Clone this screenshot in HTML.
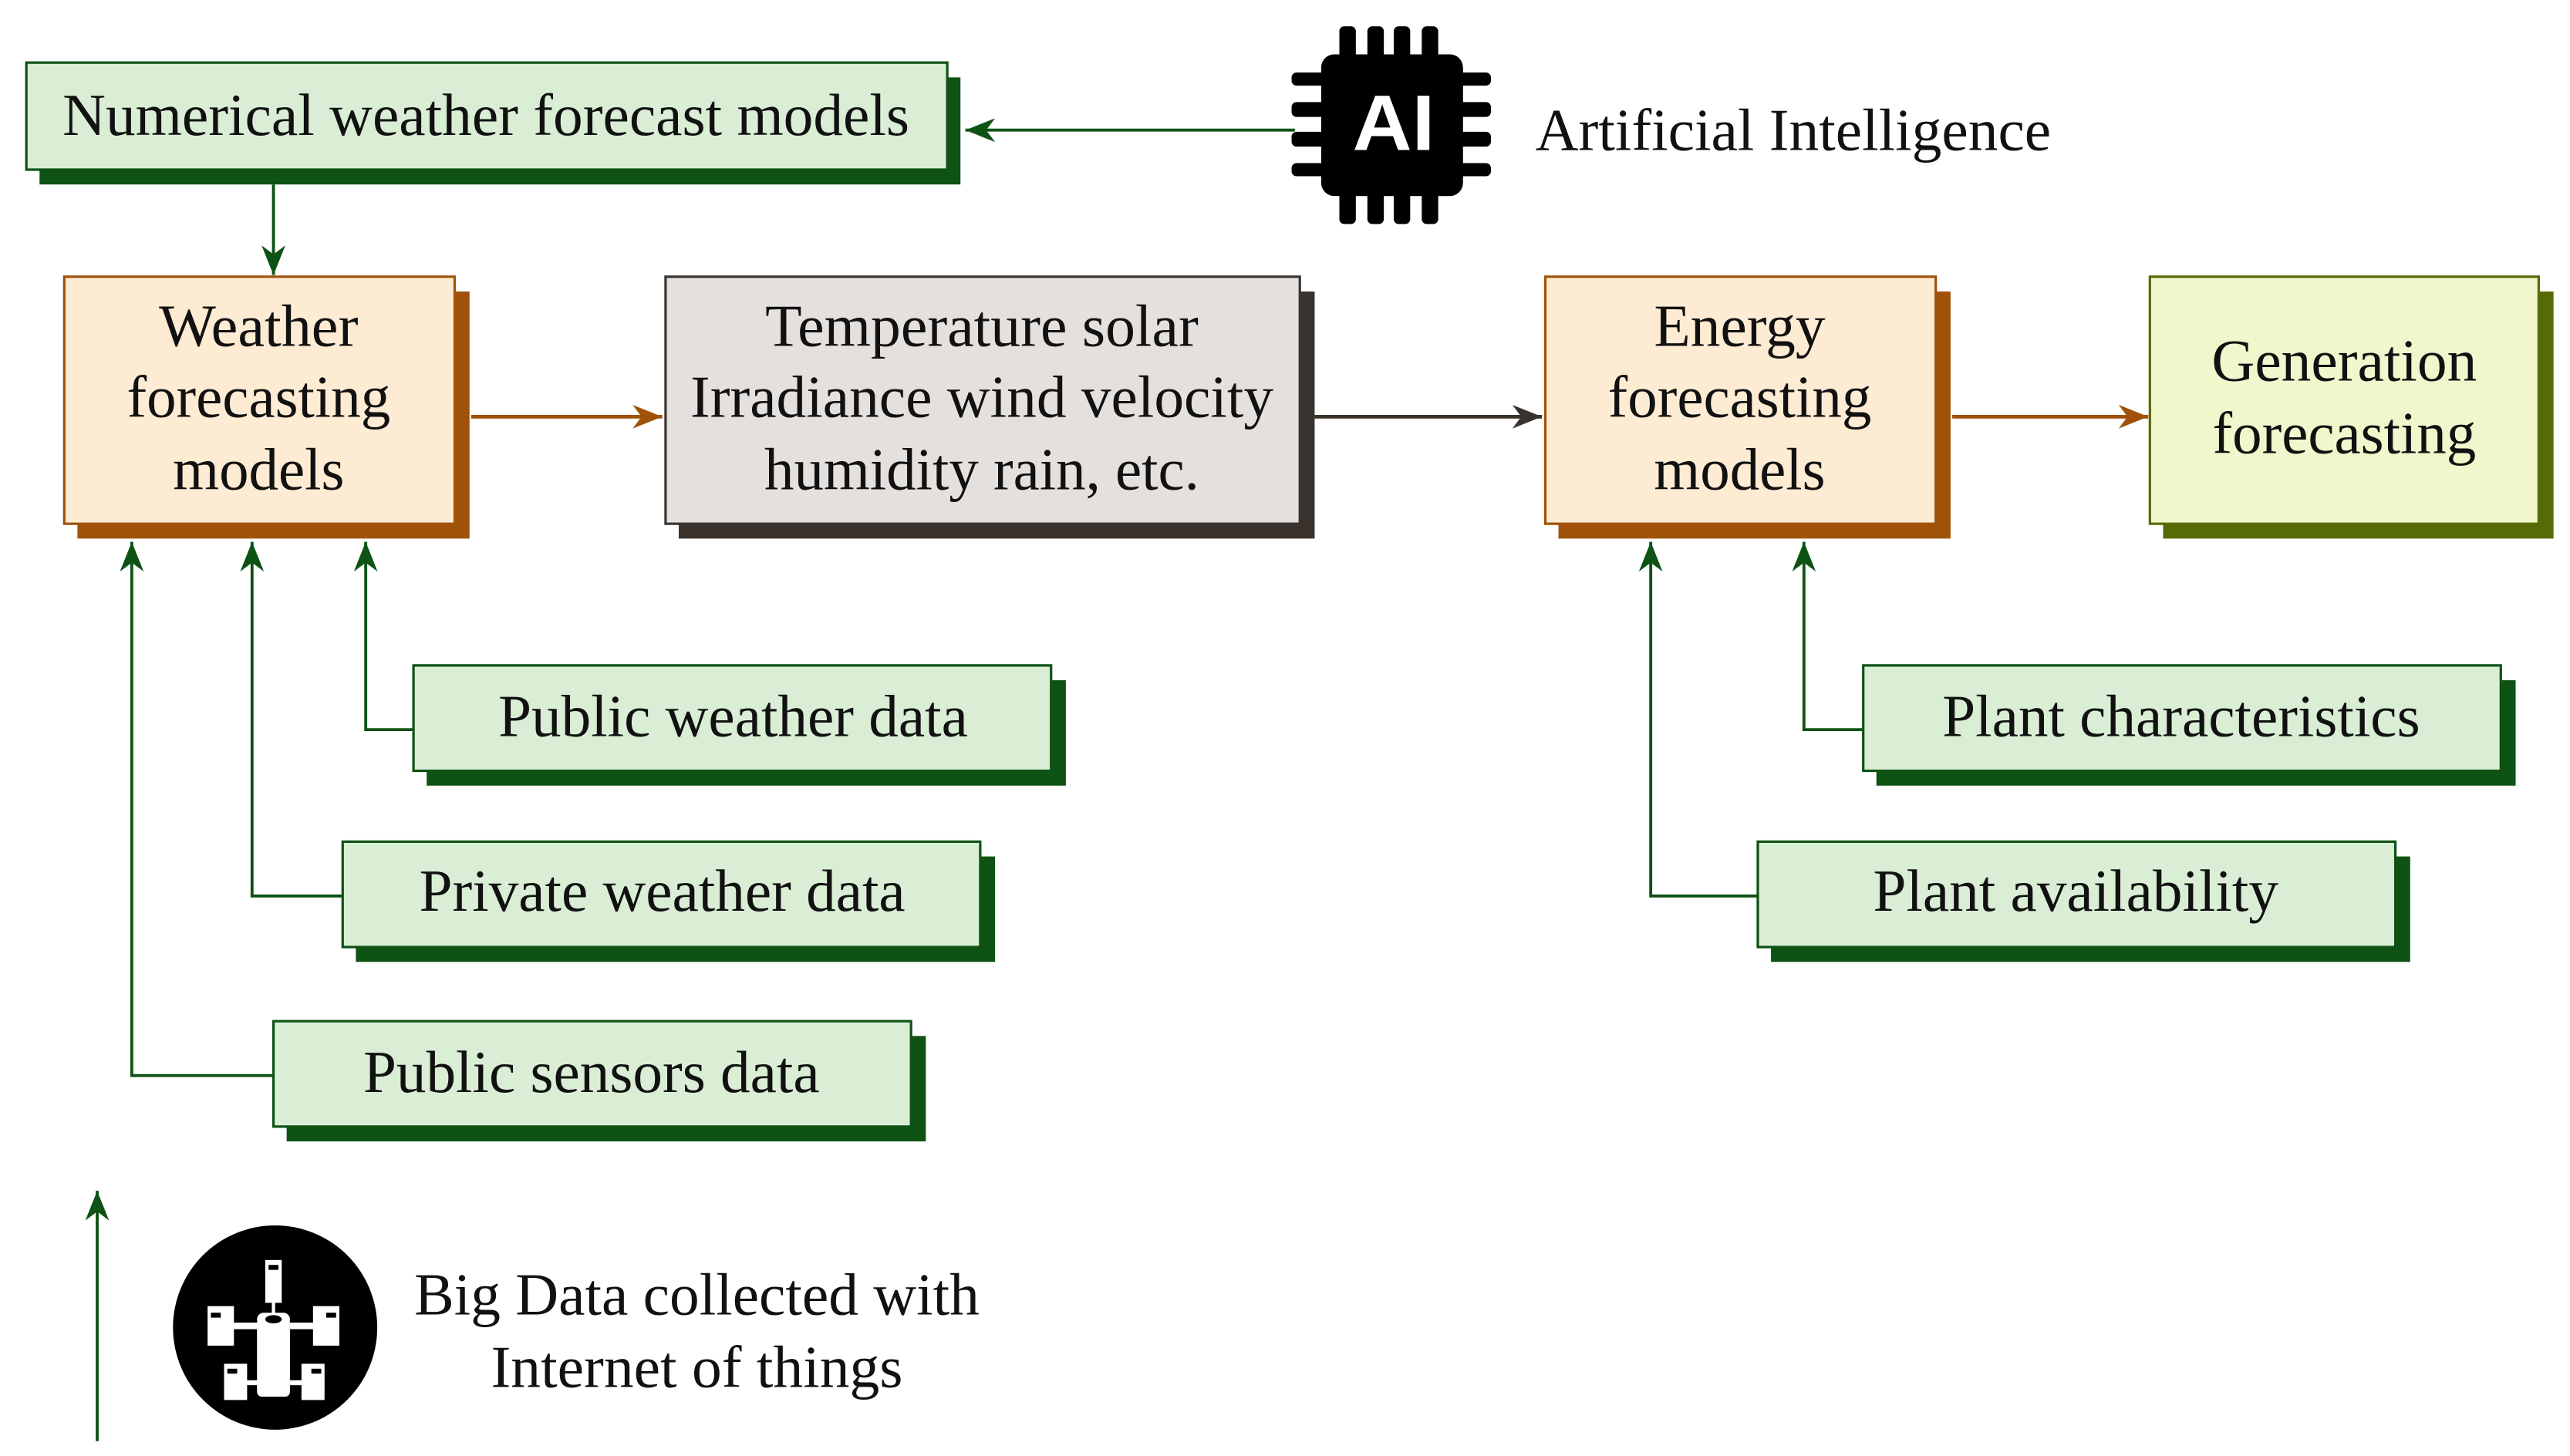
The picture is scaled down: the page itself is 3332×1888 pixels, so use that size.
<!DOCTYPE html>
<html><head><meta charset="utf-8"><style>
html,body{margin:0;padding:0;background:#fff;}
svg{display:block;}
text{font-family:"Liberation Serif",serif;fill:#111;}
</style></head><body>
<svg width="3332" height="1888" viewBox="0 0 1560 884" preserveAspectRatio="none" xmlns="http://www.w3.org/2000/svg">
<defs>
<marker id="ag" viewBox="0 0 10 10" refX="10" refY="5" markerWidth="9" markerHeight="9" markerUnits="userSpaceOnUse" orient="auto"><path d="M0,0 L10,5 L0,10 L3,5 z" fill="#0e5214"/></marker>
<marker id="ag2" viewBox="0 0 10 10" refX="10" refY="5" markerWidth="18" markerHeight="18" markerUnits="userSpaceOnUse" orient="auto"><path d="M0,1 L10,5 L0,9 L3,5 z" fill="#0e5214"/></marker>
<marker id="ao" viewBox="0 0 10 10" refX="10" refY="5" markerWidth="18" markerHeight="18" markerUnits="userSpaceOnUse" orient="auto"><path d="M0,1 L10,5 L0,9 L3,5 z" fill="#a0520a"/></marker>
<marker id="ak" viewBox="0 0 10 10" refX="10" refY="5" markerWidth="18" markerHeight="18" markerUnits="userSpaceOnUse" orient="auto"><path d="M0,1 L10,5 L0,9 L3,5 z" fill="#3a332d"/></marker>
</defs>

<!-- NWF box -->
<rect x="24" y="47" width="559" height="65" fill="#0e5214"/>
<rect x="16" y="38" width="559" height="65" fill="#d9eed5" stroke="#0e5214" stroke-width="1.5"/>
<text x="295" y="82" font-size="36" text-anchor="middle" textLength="514" lengthAdjust="spacingAndGlyphs">Numerical weather forecast models</text>

<!-- AI chip -->
<g fill="#000">
<rect x="802" y="33" width="86" height="86" rx="8"/>
<rect x="813" y="16" width="10" height="120" rx="3"/><rect x="830" y="16" width="10" height="120" rx="3"/>
<rect x="846" y="16" width="10" height="120" rx="3"/><rect x="863" y="16" width="10" height="120" rx="3"/>
<rect x="784" y="44" width="121" height="8" rx="3"/><rect x="784" y="62" width="121" height="9" rx="3"/>
<rect x="784" y="80" width="121" height="9" rx="3"/><rect x="784" y="99" width="121" height="8" rx="3"/>
<rect x="802" y="33" width="86" height="86" rx="8"/>
</g>
<text x="846" y="91" font-size="48" font-weight="bold" text-anchor="middle" style="font-family:'Liberation Sans',sans-serif;fill:#fff" textLength="50" lengthAdjust="spacingAndGlyphs">AI</text>
<text x="932" y="91" font-size="36" textLength="313" lengthAdjust="spacingAndGlyphs">Artificial Intelligence</text>
<line x1="786" y1="79" x2="586" y2="79" stroke="#0e5214" stroke-width="1.8" marker-end="url(#ag2)"/>
<line x1="166" y1="112" x2="166" y2="167" stroke="#0e5214" stroke-width="1.8" marker-end="url(#ag2)"/>

<!-- Weather forecasting -->
<rect x="47" y="177" width="238" height="150" fill="#a0520a"/>
<rect x="39" y="168" width="237" height="150" fill="#fdebd3" stroke="#a0520a" stroke-width="1.5"/>
<text x="157" y="210" font-size="36" text-anchor="middle" textLength="121" lengthAdjust="spacingAndGlyphs">Weather</text>
<text x="157" y="253" font-size="36" text-anchor="middle" textLength="160" lengthAdjust="spacingAndGlyphs">forecasting</text>
<text x="157" y="297" font-size="36" text-anchor="middle" textLength="104" lengthAdjust="spacingAndGlyphs">models</text>

<!-- Temp -->
<rect x="412" y="177" width="386" height="150" fill="#3a332d"/>
<rect x="404" y="168" width="385" height="150" fill="#e4e0dd" stroke="#3a332d" stroke-width="1.5"/>
<text x="596" y="210" font-size="36" text-anchor="middle" textLength="263" lengthAdjust="spacingAndGlyphs">Temperature solar</text>
<text x="596" y="253" font-size="36" text-anchor="middle" textLength="354" lengthAdjust="spacingAndGlyphs">Irradiance wind velocity</text>
<text x="596" y="297" font-size="36" text-anchor="middle" textLength="264" lengthAdjust="spacingAndGlyphs">humidity rain, etc.</text>

<!-- Energy -->
<rect x="946" y="177" width="238" height="150" fill="#a0520a"/>
<rect x="938" y="168" width="237" height="150" fill="#fdebd3" stroke="#a0520a" stroke-width="1.5"/>
<text x="1056" y="210" font-size="36" text-anchor="middle" textLength="104" lengthAdjust="spacingAndGlyphs">Energy</text>
<text x="1056" y="253" font-size="36" text-anchor="middle" textLength="160" lengthAdjust="spacingAndGlyphs">forecasting</text>
<text x="1056" y="297" font-size="36" text-anchor="middle" textLength="104" lengthAdjust="spacingAndGlyphs">models</text>

<!-- Generation -->
<rect x="1313" y="177" width="237" height="150" fill="#566b06"/>
<rect x="1305" y="168" width="236" height="150" fill="#f1f6cc" stroke="#566b06" stroke-width="1.5"/>
<text x="1423" y="231" font-size="36" text-anchor="middle" textLength="161" lengthAdjust="spacingAndGlyphs">Generation</text>
<text x="1423" y="275" font-size="36" text-anchor="middle" textLength="160" lengthAdjust="spacingAndGlyphs">forecasting</text>

<!-- horizontal arrows -->
<line x1="286" y1="253" x2="402" y2="253" stroke="#a0520a" stroke-width="2.2" marker-end="url(#ao)"/>
<line x1="798" y1="253" x2="936" y2="253" stroke="#3a332d" stroke-width="2.2" marker-end="url(#ak)"/>
<line x1="1185" y1="253" x2="1304" y2="253" stroke="#a0520a" stroke-width="2.2" marker-end="url(#ao)"/>

<!-- input boxes -->
<g>
<rect x="259" y="413" width="388" height="64" fill="#0e5214"/>
<rect x="251" y="404" width="387" height="64" fill="#d9eed5" stroke="#0e5214" stroke-width="1.5"/>
<text x="445" y="447" font-size="36" text-anchor="middle" textLength="285" lengthAdjust="spacingAndGlyphs">Public weather data</text>

<rect x="216" y="520" width="388" height="64" fill="#0e5214"/>
<rect x="208" y="511" width="387" height="64" fill="#d9eed5" stroke="#0e5214" stroke-width="1.5"/>
<text x="402" y="553" font-size="36" text-anchor="middle" textLength="295" lengthAdjust="spacingAndGlyphs">Private weather data</text>

<rect x="174" y="629" width="388" height="64" fill="#0e5214"/>
<rect x="166" y="620" width="387" height="64" fill="#d9eed5" stroke="#0e5214" stroke-width="1.5"/>
<text x="359" y="663" font-size="36" text-anchor="middle" textLength="277" lengthAdjust="spacingAndGlyphs">Public sensors data</text>

<rect x="1139" y="413" width="388" height="64" fill="#0e5214"/>
<rect x="1131" y="404" width="387" height="64" fill="#d9eed5" stroke="#0e5214" stroke-width="1.5"/>
<text x="1324" y="447" font-size="36" text-anchor="middle" textLength="290" lengthAdjust="spacingAndGlyphs">Plant characteristics</text>

<rect x="1075" y="520" width="388" height="64" fill="#0e5214"/>
<rect x="1067" y="511" width="387" height="64" fill="#d9eed5" stroke="#0e5214" stroke-width="1.5"/>
<text x="1260" y="553" font-size="36" text-anchor="middle" textLength="246" lengthAdjust="spacingAndGlyphs">Plant availability</text>
</g>

<!-- connectors -->
<g fill="none" stroke="#0e5214" stroke-width="1.8">
<polyline points="251,443 222,443 222,329" marker-end="url(#ag2)"/>
<polyline points="208,544 153,544 153,329" marker-end="url(#ag2)"/>
<polyline points="166,653 80,653 80,329" marker-end="url(#ag2)"/>
<polyline points="1131,443 1095,443 1095,329" marker-end="url(#ag2)"/>
<polyline points="1067,544 1002,544 1002,329" marker-end="url(#ag2)"/>
<line x1="59" y1="875" x2="59" y2="723" marker-end="url(#ag2)"/>
</g>

<!-- big data icon -->
<ellipse cx="167" cy="806" rx="62" ry="62" fill="#000"/>
<g fill="#fff">
<rect x="161" y="765" width="10" height="26"/>
<rect x="165" y="790" width="2" height="8"/>
<rect x="156" y="797" width="20" height="8" rx="4"/>
<rect x="156" y="800" width="20" height="48" rx="3"/>
<rect x="126" y="793" width="16" height="24"/>
<rect x="190" y="793" width="16" height="24"/>
<rect x="140" y="803" width="18" height="4"/>
<rect x="176" y="803" width="16" height="4"/>
<rect x="136" y="828" width="14" height="22"/>
<rect x="183" y="828" width="14" height="22"/>
<rect x="148" y="838" width="10" height="3"/>
<rect x="176" y="838" width="8" height="3"/>
</g>
<g fill="#000">
<rect x="163" y="768" width="6" height="3"/>
<rect x="128" y="797" width="6" height="3"/>
<rect x="198" y="797" width="6" height="3"/>
<rect x="138" y="831" width="6" height="3"/>
<rect x="189" y="831" width="6" height="3"/>
<ellipse cx="166" cy="801" rx="5" ry="2.5"/>
</g>
<text x="423" y="798" font-size="36" text-anchor="middle" textLength="343" lengthAdjust="spacingAndGlyphs">Big Data collected with</text>
<text x="423" y="842" font-size="36" text-anchor="middle" textLength="250" lengthAdjust="spacingAndGlyphs">Internet of things</text>
</svg>
</body></html>
